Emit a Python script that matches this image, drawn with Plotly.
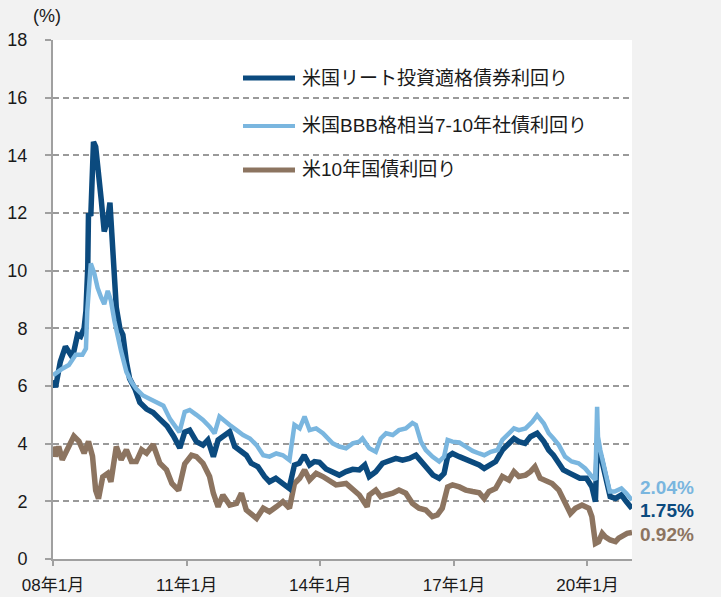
import plotly.graph_objects as go

# ---------------- data ----------------
reit_dates = [
    "2008-01-01", "2008-01-22", "2008-03-01", "2008-04-12", "2008-05-26", "2008-06-20",
    "2008-07-20", "2008-08-15", "2008-09-12", "2008-09-27", "2008-10-12", "2008-10-18",
    "2008-11-06", "2008-11-28", "2008-12-16", "2009-01-08", "2009-01-30", "2009-02-24",
    "2009-03-25", "2009-04-12", "2009-05-05", "2009-06-03", "2009-07-02", "2009-07-27",
    "2009-08-25", "2009-09-20", "2009-11-03", "2009-12-13", "2010-02-06", "2010-04-01",
    "2010-05-26", "2010-07-24", "2010-09-16", "2010-11-06", "2010-12-16", "2011-01-26",
    "2011-03-22", "2011-05-15", "2011-06-24", "2011-08-08", "2011-09-16", "2011-11-10",
    "2011-12-20", "2012-01-30", "2012-03-25", "2012-05-04", "2012-06-13", "2012-08-07",
    "2012-10-01", "2012-11-10", "2013-01-01", "2013-03-01", "2013-04-20", "2013-06-03",
    "2013-07-13", "2013-08-22", "2013-10-05", "2013-11-14", "2013-12-25", "2014-02-17",
    "2014-04-12", "2014-06-05", "2014-07-31", "2014-09-24", "2014-11-17", "2015-01-01",
    "2015-02-06", "2015-04-01", "2015-05-26", "2015-07-20", "2015-09-13", "2015-11-06",
    "2016-01-01", "2016-02-24", "2016-04-08", "2016-05-19", "2016-07-13", "2016-09-02",
    "2016-10-12", "2016-11-10", "2016-12-20", "2017-02-14", "2017-04-08", "2017-06-03",
    "2017-07-27", "2017-09-06", "2017-10-16", "2017-12-09", "2018-02-02", "2018-03-28",
    "2018-05-08", "2018-06-17", "2018-08-07", "2018-09-20", "2018-11-14", "2019-01-08",
    "2019-02-17", "2019-03-28", "2019-05-08", "2019-06-17", "2019-08-11", "2019-09-20",
    "2019-10-30", "2019-12-24", "2020-02-06", "2020-03-06", "2020-03-20", "2020-03-29",
    "2020-04-20", "2020-05-15", "2020-06-06", "2020-07-05", "2020-08-18", "2020-10-05",
    "2020-11-14", "2020-12-31",
]
reit_yield = [
    6.2, 5.96, 6.84, 7.37, 7.08, 7.2,
    7.78, 7.72, 8.0, 8.6, 10.1, 12.0,
    11.9, 14.47, 14.3, 13.06, 12.48, 11.36,
    11.77, 12.36, 10.7, 8.72, 8.0, 7.78,
    6.84, 6.26, 5.9, 5.43, 5.2, 5.08,
    4.85, 4.61, 4.26, 3.85, 4.4, 4.47,
    4.07, 3.95, 4.13, 3.55, 4.13, 4.3,
    4.42, 3.9, 3.72, 3.6, 3.32, 3.2,
    2.86, 2.68, 2.8, 2.62, 2.45, 3.26,
    3.32, 3.6, 3.26, 3.38, 3.35, 3.12,
    3.03, 2.91, 3.03, 3.11, 3.09, 3.26,
    2.86, 3.03, 3.32, 3.43, 3.49, 3.43,
    3.49, 3.6, 3.38, 3.14, 2.91, 2.8,
    2.97, 3.55, 3.66, 3.55, 3.46, 3.4,
    3.26, 3.14, 3.26, 3.38, 3.78, 4.01,
    4.18, 4.07, 4.01, 4.24, 4.36, 4.07,
    3.78, 3.6, 3.38, 3.09, 2.97, 2.91,
    2.8, 2.8, 2.5, 1.99, 3.9, 3.78,
    3.55, 3.09, 2.5, 2.16, 2.1, 2.22,
    1.99, 1.75,
]

bbb_dates = [
    "2008-01-01", "2008-02-03", "2008-03-17", "2008-05-10", "2008-07-05", "2008-08-29",
    "2008-09-27", "2008-10-08", "2008-11-06", "2008-12-05", "2009-01-01", "2009-01-30",
    "2009-02-24", "2009-03-25", "2009-04-20", "2009-05-19", "2009-06-17", "2009-07-13",
    "2009-08-25", "2009-10-05", "2009-11-14", "2010-01-08", "2010-03-06", "2010-05-01",
    "2010-06-24", "2010-08-18", "2010-10-12", "2010-11-03", "2010-12-16", "2011-01-26",
    "2011-03-22", "2011-05-15", "2011-07-08", "2011-08-18", "2011-09-27", "2011-11-10",
    "2011-12-20", "2012-02-14", "2012-04-08", "2012-06-03", "2012-07-27", "2012-09-20",
    "2012-11-10", "2013-01-05", "2013-02-28", "2013-04-23", "2013-06-03", "2013-07-16",
    "2013-08-25", "2013-10-05", "2013-11-28", "2014-01-22", "2014-02-17", "2014-04-12",
    "2014-06-05", "2014-07-31", "2014-09-24", "2014-11-17", "2014-12-13", "2015-02-06",
    "2015-04-01", "2015-05-12", "2015-06-24", "2015-08-18", "2015-10-08", "2015-12-03",
    "2016-01-26", "2016-02-24", "2016-04-05", "2016-05-15", "2016-07-08", "2016-09-02",
    "2016-10-12", "2016-11-10", "2016-12-20", "2017-02-14", "2017-04-08", "2017-06-03",
    "2017-07-27", "2017-09-06", "2017-10-30", "2017-12-24", "2018-02-02", "2018-03-28",
    "2018-05-08", "2018-06-17", "2018-08-11", "2018-10-05", "2018-11-14", "2019-01-08",
    "2019-02-17", "2019-03-28", "2019-05-11", "2019-07-01", "2019-08-24", "2019-10-20",
    "2019-12-13", "2020-02-06", "2020-03-06", "2020-03-20", "2020-03-27", "2020-04-15",
    "2020-05-05", "2020-06-06", "2020-07-02", "2020-08-11", "2020-10-05", "2020-11-14",
    "2020-12-31",
]
bbb_yield = [
    6.37, 6.49, 6.6, 6.73, 7.08, 7.08,
    7.3, 8.6, 10.25, 9.9, 9.4, 9.07,
    8.84, 9.3, 8.96, 8.25, 7.66, 7.2,
    6.49, 6.14, 5.9, 5.67, 5.55, 5.43,
    5.32, 4.85, 4.55, 4.4, 5.1, 5.17,
    5.0, 4.82, 4.59, 4.36, 4.94, 4.76,
    4.65, 4.47, 4.3, 4.18, 3.95, 3.6,
    3.55, 3.66, 3.6, 3.43, 4.65, 4.53,
    4.94, 4.47, 4.53, 4.36, 4.24, 4.01,
    3.9, 3.84, 4.01, 4.07, 4.18, 3.84,
    3.72, 4.18, 4.36, 4.3, 4.47, 4.53,
    4.72, 4.65, 4.07, 3.78, 3.55, 3.38,
    3.55, 4.13, 4.07, 4.04, 3.9, 3.75,
    3.66, 3.6, 3.72, 3.78, 4.13, 4.36,
    4.53, 4.47, 4.53, 4.76, 4.99, 4.7,
    4.36, 4.18, 3.95, 3.55, 3.38, 3.32,
    3.14, 2.86, 2.74, 5.28, 4.24, 3.78,
    3.43, 2.74, 2.34, 2.34, 2.45, 2.28,
    2.04,
]

ust_dates = [
    "2008-01-01", "2008-01-21", "2008-02-17", "2008-03-17", "2008-04-26", "2008-06-20",
    "2008-08-01", "2008-09-12", "2008-10-18", "2008-11-20", "2008-12-16", "2009-01-08",
    "2009-02-12", "2009-03-25", "2009-04-20", "2009-06-03", "2009-07-13", "2009-08-25",
    "2009-10-05", "2009-11-14", "2009-12-28", "2010-02-06", "2010-04-01", "2010-05-26",
    "2010-07-20", "2010-09-02", "2010-10-27", "2010-12-16", "2011-02-10", "2011-03-22",
    "2011-05-15", "2011-07-08", "2011-08-08", "2011-09-16", "2011-10-25", "2011-12-20",
    "2012-02-14", "2012-03-25", "2012-05-04", "2012-06-13", "2012-07-27", "2012-09-20",
    "2012-11-10", "2013-01-05", "2013-02-28", "2013-04-23", "2013-06-03", "2013-07-16",
    "2013-08-25", "2013-10-05", "2013-11-28", "2014-01-22", "2014-03-17", "2014-05-10",
    "2014-07-31", "2014-09-24", "2014-11-17", "2015-01-20", "2015-02-06", "2015-04-01",
    "2015-05-12", "2015-06-24", "2015-08-18", "2015-10-08", "2015-12-03", "2016-01-26",
    "2016-03-20", "2016-05-15", "2016-07-08", "2016-08-18", "2016-09-27", "2016-11-10",
    "2016-12-20", "2017-02-14", "2017-04-08", "2017-06-03", "2017-07-27", "2017-09-06",
    "2017-10-16", "2017-12-09", "2018-02-02", "2018-03-28", "2018-05-08", "2018-06-17",
    "2018-08-11", "2018-09-20", "2018-10-27", "2018-12-09", "2019-01-22", "2019-03-17",
    "2019-05-11", "2019-07-01", "2019-08-14", "2019-09-24", "2019-11-17", "2020-01-12",
    "2020-02-06", "2020-03-06", "2020-04-01", "2020-05-01", "2020-05-26", "2020-07-05",
    "2020-08-18", "2020-09-13", "2020-10-23", "2020-11-21", "2020-12-31",
]
ust_yield = [
    3.9, 3.56, 3.9, 3.44, 3.79, 4.26,
    4.08, 3.67, 4.08, 3.56, 2.38, 2.09,
    2.85, 2.97, 2.68, 3.9, 3.44, 3.79,
    3.38, 3.38, 3.79, 3.67, 3.97, 3.32,
    3.09, 2.62, 2.38, 3.3, 3.6, 3.55,
    3.32, 2.86, 2.28, 1.81, 2.22, 1.87,
    1.93, 2.28, 1.7, 1.53, 1.41, 1.76,
    1.64, 1.81, 1.99, 1.76, 2.62, 2.8,
    3.09, 2.74, 2.97, 2.86, 2.74, 2.57,
    2.62, 2.39, 2.22, 1.81, 2.22, 2.39,
    2.16, 2.22, 2.28, 2.39, 2.28, 1.93,
    1.76, 1.7, 1.47, 1.53, 1.76, 2.5,
    2.57, 2.5, 2.39, 2.34, 2.3, 2.1,
    2.34, 2.45, 2.86, 2.74, 3.03, 2.86,
    2.91, 3.03, 3.2, 2.8, 2.74, 2.62,
    2.39, 1.93, 1.58, 1.76, 1.87, 1.76,
    1.47, 0.54, 0.6, 0.89, 0.77, 0.66,
    0.6, 0.72, 0.83, 0.89, 0.92,
]

series_names = ["米国リート投資適格債券利回り", "米国BBB格相当7-10年社債利回り", "米10年国債利回り"]
end_labels = ["1.75%", "2.04%", "0.92%"]
x_tick_dates = ["2008-01-01", "2011-01-01", "2014-01-01", "2017-01-01", "2020-01-01"]
x_tick_labels = ["08年1月", "11年1月", "14年1月", "17年1月", "20年1月"]
y_ticks = [0, 2, 4, 6, 8, 10, 12, 14, 16, 18]

# ---------------- styles ----------------
C_REIT = "#0b4a7e"
C_BBB = "#7ab6df"
C_UST = "#8c7460"
GRID = "#9a9a9a"
AXIS = "#a0a0a0"
TXT = "#1a1a1a"

fig = go.Figure()
fig.add_trace(go.Scatter(x=ust_dates, y=ust_yield, mode="lines", name=series_names[2],
                         line=dict(color=C_UST, width=5.5), showlegend=False))
fig.add_trace(go.Scatter(x=reit_dates, y=reit_yield, mode="lines", name=series_names[0],
                         line=dict(color=C_REIT, width=5.5), showlegend=False))
fig.add_trace(go.Scatter(x=bbb_dates, y=bbb_yield, mode="lines", name=series_names[1],
                         line=dict(color=C_BBB, width=4.5), showlegend=False))

# manual legend (line sample + text) in plot-relative paper coordinates
L, R, T, B = 53, 89, 40, 38
W, H = 721, 597
pw, ph = W - L - R, H - T - B


def px(xpix):
    return (xpix - L) / pw


def py(ypix):
    return (H - B - ypix) / ph


legend_rows = [(series_names[0], C_REIT, 5, 78), (series_names[1], C_BBB, 4, 126),
               (series_names[2], C_UST, 5, 170)]
shapes = []
annotations = []
for name, col, wd, ycen in legend_rows:
    shapes.append(dict(type="line", xref="paper", yref="paper",
                       x0=px(243), x1=px(295), y0=py(ycen), y1=py(ycen),
                       line=dict(color=col, width=wd)))
    annotations.append(dict(xref="paper", yref="paper", x=px(300), y=py(ycen),
                            text=name, showarrow=False, xanchor="left", yanchor="middle",
                            font=dict(size=19, color=TXT, family="Liberation Sans, Noto Sans CJK JP")))

# end-value labels
end_cols = [C_REIT, C_BBB, C_UST]
end_ypix = [510, 487, 534]
for txt, col, yp in zip(end_labels, end_cols, end_ypix):
    annotations.append(dict(xref="paper", yref="paper", x=px(638), y=py(yp), text=f"<b>{txt}</b>",
                            showarrow=False, xanchor="left", yanchor="middle",
                            font=dict(size=19, color=col, family="Liberation Sans, Arial")))

# unit label
annotations.append(dict(xref="paper", yref="paper", x=px(31), y=py(16), text="(%)",
                        showarrow=False, xanchor="left", yanchor="middle",
                        font=dict(size=18, color=TXT, family="Liberation Sans")))

fig.update_layout(
    width=W, height=H,
    margin=dict(l=L, r=R, t=T, b=B, pad=0, autoexpand=False),
    paper_bgcolor="#f2f2f2", plot_bgcolor="#ffffff",
    showlegend=False,
    shapes=shapes, annotations=annotations,
    font=dict(family="Liberation Sans, Noto Sans CJK JP", color=TXT),
)
fig.update_xaxes(
    type="date", range=["2008-01-01", "2020-12-31"],
    tickvals=x_tick_dates, ticktext=x_tick_labels,
    showgrid=False, zeroline=False, automargin=False,
    showline=True, linecolor=AXIS, linewidth=2,
    ticks="outside", ticklen=5, tickwidth=1.5, tickcolor=AXIS,
    tickfont=dict(size=17, color=TXT), ticklabelstandoff=5,
)
fig.update_yaxes(
    range=[0, 18], tickvals=y_ticks, automargin=False,
    showgrid=True, gridcolor=GRID, gridwidth=1.5, griddash="6px,4px",
    zeroline=False,
    showline=True, linecolor=AXIS, linewidth=2,
    ticks="outside", ticklen=6, tickwidth=1.5, tickcolor=AXIS,
    tickfont=dict(size=18, color=TXT), ticklabelstandoff=14,
)

fig.write_html(
    "out.html",
    config={"displayModeBar": False},
    post_script="document.body.style.margin='0';document.body.style.overflow='hidden';",
)
